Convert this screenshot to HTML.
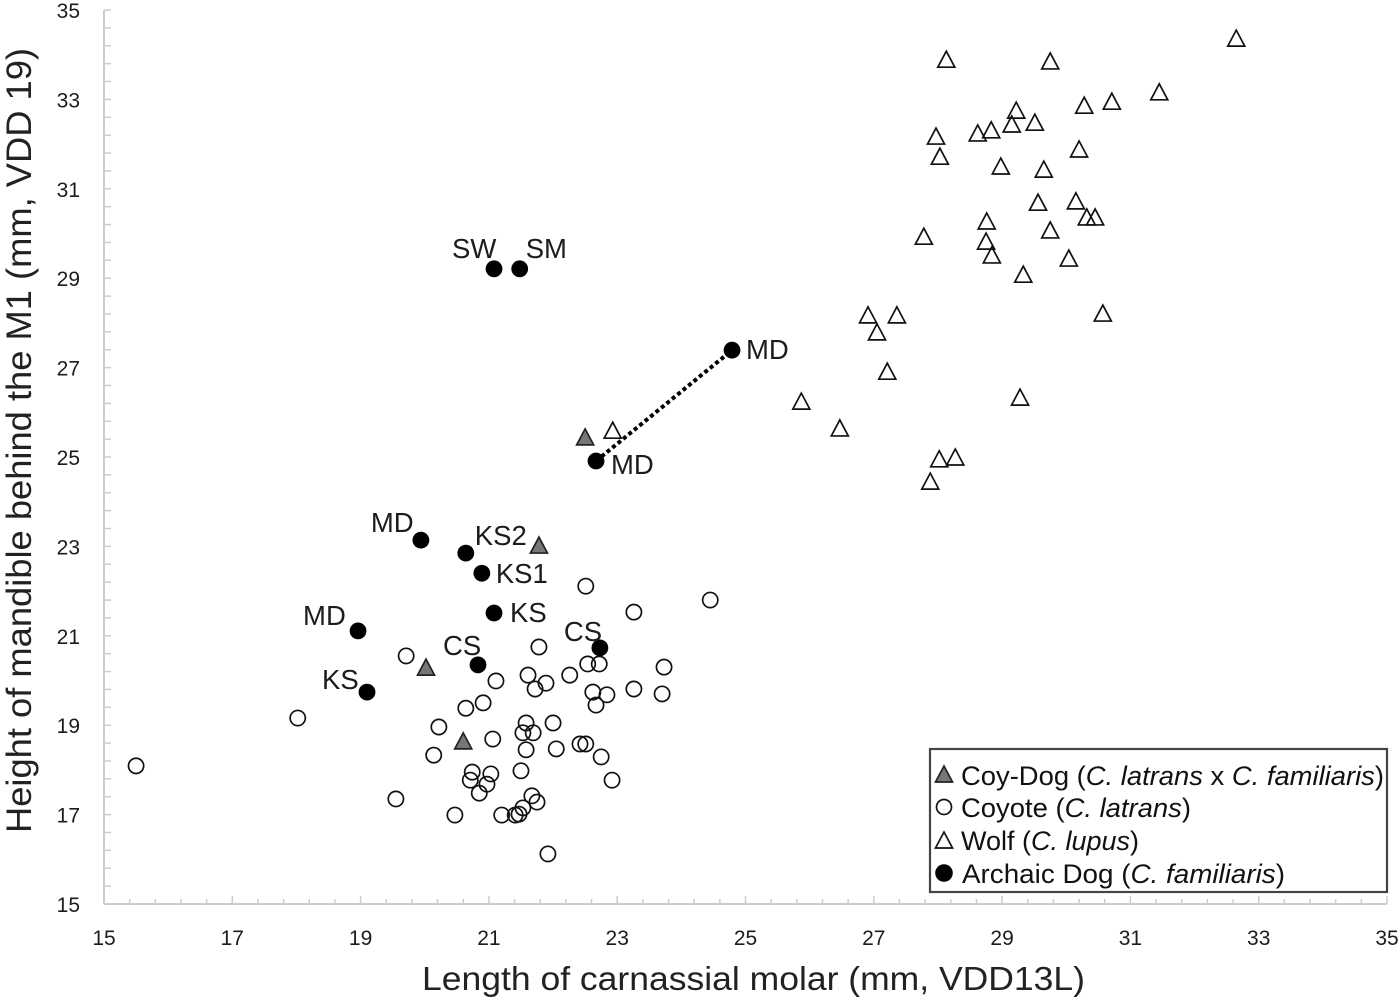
<!DOCTYPE html>
<html lang="en">
<head>
<meta charset="utf-8">
<title>Mandible height versus carnassial length</title>
<style>
html,body{margin:0;padding:0;background:#fff;width:1400px;height:1000px;overflow:hidden}
svg{display:block;font-family:"Liberation Sans",sans-serif}
</style>
</head>
<body>
<svg id="chart" xmlns="http://www.w3.org/2000/svg" width="1400" height="1000" viewBox="0 0 1400 1000">
  <rect x="0" y="0" width="1400" height="1000" fill="#fff"/>
  <g id="axes"></g>
  <g id="marks"></g>
  <text x="422" y="990" font-size="33" fill="#222" textLength="663" lengthAdjust="spacingAndGlyphs">Length of carnassial molar (mm, VDD13L)</text>
  <text transform="translate(31,833) rotate(-90)" font-size="35" fill="#222" textLength="785" lengthAdjust="spacingAndGlyphs">Height of mandible behind the M1 (mm, VDD 19)</text>
  <g>
    <rect x="930" y="749" width="457" height="143" fill="#fff" stroke="#444" stroke-width="2.2"/>
    <g>
      <polygon points="944,766 952.5,782 935.5,782" fill="#777" stroke="#222" stroke-width="1.7"/>
      <text x="961" y="785" font-size="27" fill="#111" textLength="423" lengthAdjust="spacingAndGlyphs">Coy-Dog (<tspan font-style="italic">C. latrans</tspan> x <tspan font-style="italic">C. familiaris</tspan>)</text>
    </g>
    <g>
      <circle cx="944" cy="807" r="7.5" fill="none" stroke="#111" stroke-width="1.7"/>
      <text x="961" y="817" font-size="27" fill="#111" textLength="230" lengthAdjust="spacingAndGlyphs">Coyote (<tspan font-style="italic">C. latrans</tspan>)</text>
    </g>
    <g>
      <polygon points="944,832 952.5,848 935.5,848" fill="none" stroke="#111" stroke-width="1.7"/>
      <text x="961" y="850" font-size="27" fill="#111" textLength="178" lengthAdjust="spacingAndGlyphs">Wolf (<tspan font-style="italic">C. lupus</tspan>)</text>
    </g>
    <g>
      <circle cx="944" cy="873" r="8.8" fill="#000"/>
      <text x="962" y="883" font-size="27" fill="#111" textLength="323" lengthAdjust="spacingAndGlyphs">Archaic Dog (<tspan font-style="italic">C. familiaris</tspan>)</text>
    </g>
  </g>
</svg>
<script>
const xTickLabels = [15, 17, 19, 21, 23, 25, 27, 29, 31, 33, 35];
const yTickLabels = [15, 17, 19, 21, 23, 25, 27, 29, 31, 33, 35];

const coyoteX = [15.50, 18.02, 19.55, 19.71, 21.11, 20.64, 20.91, 20.22, 20.14, 21.06, 21.58, 21.53, 21.69, 21.58, 22.00, 22.05, 22.42, 22.51, 22.75, 22.92, 21.50, 20.74, 21.03, 20.71, 20.97, 20.85, 21.67, 21.75, 21.53, 21.47, 21.41, 21.20, 20.47, 21.92, 21.61, 21.78, 21.89, 21.72, 22.26, 22.54, 22.72, 22.62, 22.84, 22.67, 23.26, 23.73, 23.70, 22.51, 23.26, 24.45];
const coyoteY = [18.09, 19.16, 17.35, 20.55, 19.99, 19.38, 19.50, 18.96, 18.33, 18.69, 19.05, 18.83, 18.83, 18.45, 19.05, 18.47, 18.58, 18.58, 18.29, 17.77, 17.98, 17.95, 17.91, 17.77, 17.68, 17.48, 17.42, 17.28, 17.15, 17.01, 16.99, 16.99, 16.99, 16.12, 20.12, 20.75, 19.94, 19.81, 20.12, 20.37, 20.37, 19.74, 19.68, 19.45, 19.81, 20.30, 19.70, 22.11, 21.53, 21.80];

const wolfX = [32.65, 28.13, 29.75, 31.45, 30.71, 30.28, 29.22, 29.51, 29.15, 28.83, 28.62, 27.97, 28.03, 30.20, 28.98, 29.65, 30.15, 29.56, 28.76, 30.45, 30.32, 29.75, 27.78, 28.75, 28.84, 30.04, 29.33, 30.57, 26.91, 27.36, 27.05, 27.21, 29.28, 25.87, 26.47, 22.93, 28.27, 28.02, 27.88];
const wolfY = [34.37, 33.90, 33.86, 33.17, 32.96, 32.87, 32.76, 32.49, 32.45, 32.32, 32.25, 32.18, 31.73, 31.89, 31.51, 31.44, 30.73, 30.70, 30.28, 30.37, 30.37, 30.08, 29.94, 29.83, 29.52, 29.45, 29.09, 28.22, 28.18, 28.18, 27.80, 26.92, 26.34, 26.25, 25.65, 25.60, 25.00, 24.96, 24.46];

const coyDogX = [22.50, 21.78, 20.02, 20.60];
const coyDogY = [25.45, 23.03, 20.30, 18.65];

const dogX = [21.08, 21.48, 24.79, 22.67, 19.94, 20.64, 20.89, 21.08, 18.96, 22.73, 20.83, 19.10];
const dogY = [29.21, 29.21, 27.39, 24.91, 23.14, 22.85, 22.40, 21.51, 21.11, 20.73, 20.35, 19.74];
const dogLabels = ["SW", "SM", "MD", "MD", "MD", "KS2", "KS1", "KS", "MD", "CS", "CS", "KS"];

const linkFrom = 3;
const linkTo = 2;

const SVG_NS = "http://www.w3.org/2000/svg";
const axesLayer = document.getElementById("axes");
const marksLayer = document.getElementById("marks");

function xScale(v) { return 104 + (v - 15) * (1283 / 20); }
function yScale(v) { return 904 - (v - 15) * (894 / 20); }
function make(tag, attrs, parent) {
  const el = document.createElementNS(SVG_NS, tag);
  Object.keys(attrs).forEach(function (k) { el.setAttribute(k, attrs[k]); });
  parent.appendChild(el);
  return el;
}

function drawAxes() {
  const axisColor = "#cccccc";
  const xLine = make("line", { x1: xScale(15), x2: xScale(35), y1: yScale(15), y2: yScale(15), stroke: axisColor, "stroke-width": 2 }, axesLayer);
  
  
  const yLine = make("line", { x1: xScale(15), x2: xScale(15), y1: yScale(15), y2: yScale(35), stroke: axisColor, "stroke-width": 2 }, axesLayer);
  
  

  for (let i = 0; i <= 50; i++) {
    const v = 15 + i * 0.4;
    const isMajor = i % 5 === 0;
    const xt = make("line", { x1: xScale(v), x2: xScale(v), y1: yScale(15), y2: yScale(15) - (isMajor ? 8 : 5), stroke: axisColor, "stroke-width": 1.5 }, axesLayer);
    
    
    const yt = make("line", { x1: xScale(15), x2: xScale(15) + 7, y1: yScale(v), y2: yScale(v), stroke: axisColor, "stroke-width": 1.5 }, axesLayer);
    
    
  }

  xTickLabels.forEach(function (t) {
    const lab = make("text", { x: xScale(t), y: 945, "font-size": 21, fill: "#1c1c1c", "text-anchor": "middle" }, axesLayer);
    
    
    lab.textContent = t;
  });
  yTickLabels.forEach(function (t) {
    const lab = make("text", { x: 80, y: yScale(t) + 8, "font-size": 21, fill: "#1c1c1c", "text-anchor": "end" }, axesLayer);
    
    
    lab.textContent = t;
  });
}

function trianglePoints(cx, cy) {
  return (cx) + "," + (cy - 8) + " " + (cx + 8.5) + "," + (cy + 8) + " " + (cx - 8.5) + "," + (cy + 8);
}

function drawMarks() {
  const link = make("line", { x1: xScale(dogX[linkFrom]), y1: yScale(dogY[linkFrom]), x2: xScale(dogX[linkTo]), y2: yScale(dogY[linkTo]), stroke: "#000", "stroke-width": 4, "stroke-dasharray": "4 3" }, marksLayer);
  
  

  coyoteX.forEach(function (x, i) {
    const c = make("circle", { cx: xScale(x), cy: yScale(coyoteY[i]), r: 7.6, fill: "none", stroke: "#111", "stroke-width": 1.7 }, marksLayer);
    
    
  });
  wolfX.forEach(function (x, i) {
    const p = make("polygon", { points: trianglePoints(xScale(x), yScale(wolfY[i])), fill: "none", stroke: "#111", "stroke-width": 1.7 }, marksLayer);
    
    
  });
  coyDogX.forEach(function (x, i) {
    const p = make("polygon", { points: trianglePoints(xScale(x), yScale(coyDogY[i])), fill: "#777", stroke: "#222", "stroke-width": 1.7 }, marksLayer);
    
    
  });

  const labelDx = [-42, 6, 14, 15, -50, 9, 14, 16, -55, -36, -35, -45];
  const labelDy = [-11, -11, 9, 13, -8, -8, 10, 9, -6, -7, -10, -3];
  dogX.forEach(function (x, i) {
    const px = xScale(x);
    const py = yScale(dogY[i]);
    const c = make("circle", { cx: px, cy: py, r: 8.4, fill: "#000" }, marksLayer);
    
    
    const t = make("text", { x: px + labelDx[i], y: py + labelDy[i], "font-size": 27.5, fill: "#1c1c1c" }, marksLayer);
    
    
    t.textContent = dogLabels[i];
  });
}

drawAxes();
drawMarks();
</script>
</body>
</html>
